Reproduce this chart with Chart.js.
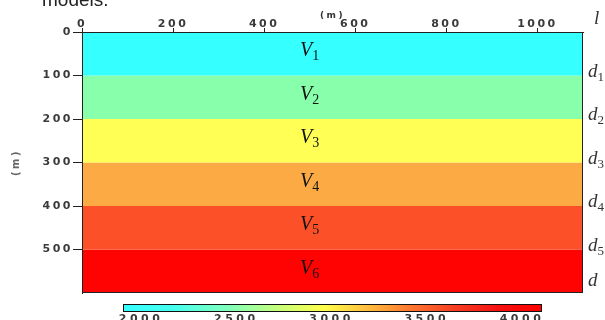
<!DOCTYPE html>
<html>
<head>
<meta charset="utf-8">
<style>
  html, body { margin: 0; padding: 0; background: #fff; }
  #wrap { width: 605px; height: 320px; position: relative; }
</style>
<script src="https://cdn.jsdelivr.net/npm/chart.js@4/dist/chart.umd.min.js"></script>
</head>
<body>
<div id="wrap"><canvas id="c" width="605" height="320"></canvas></div>
<script>
// Layered velocity model: six horizontal layers, depth in metres
const layerTops    = [0, 100, 200, 300, 400, 500];
const layerBottoms = [100, 200, 300, 400, 500, 600];
const layerLabels  = ['1', '2', '3', '4', '5', '6'];
const layerColors  = ['#36ffff', '#88ffaa', '#ffff55', '#fcaa44', '#fc5028', '#ff0303'];

// Interface depths and their labels on the right-hand side
const interfaceDepths = [100, 200, 300, 400, 500];
const interfaceLabels = ['1', '2', '3', '4', '5'];

// Axes
const xMin = 0, xMax = 1100;
const xTicks = [0, 200, 400, 600, 800, 1000];
const yMin = 0, yMax = 600;
const yTicks = [0, 100, 200, 300, 400, 500];
const labelX = 500;

// Velocity colour bar (m/s)
const cbarTicks = [2000, 2500, 3000, 3500, 4000];
const cbarMin = 1905, cbarMax = 4105;
const cbarStops = [
  [0.00, '#36ffff'], [0.12, '#45ffee'], [0.25, '#80ffbb'], [0.36, '#c0ff80'],
  [0.48, '#ffff48'], [0.58, '#ffc040'], [0.68, '#fc7a30'], [0.80, '#f53a22'],
  [0.90, '#f51010'], [1.00, '#ff0000']
];

const tickFont = { family: 'DejaVu Sans', size: 11, weight: 'bold' };
const tickColor = '#3a3a3a';
const mathFamily = '"Liberation Serif"';

const datasets = layerTops.map((top, i) => ({
  label: 'V' + layerLabels[i],
  data: [{ x: xMin, y: layerBottoms[i] }, { x: xMax, y: layerBottoms[i] }],
  fill: { value: top },
  backgroundColor: layerColors[i],
  borderWidth: 0,
  pointRadius: 0,
  tension: 0
}));

function mathWidth(ctx, base, sub, size) {
  ctx.save();
  ctx.font = 'italic ' + size + 'px ' + mathFamily;
  let w = ctx.measureText(base).width;
  if (sub) {
    ctx.font = Math.round(size * 0.7) + 'px ' + mathFamily;
    w += ctx.measureText(sub).width;
  }
  ctx.restore();
  return w;
}

function drawMath(ctx, base, sub, x, y, size, color) {
  ctx.save();
  ctx.fillStyle = color;
  ctx.textBaseline = 'middle';
  ctx.textAlign = 'left';
  ctx.font = 'italic ' + size + 'px ' + mathFamily;
  ctx.fillText(base, x, y);
  const w = ctx.measureText(base).width;
  if (sub) {
    ctx.font = Math.round(size * 0.7) + 'px ' + mathFamily;
    ctx.fillText(sub, x + w, y + size * 0.3);
  }
  ctx.restore();
}

// wide-set digits for the axis numbers
const spacing = {
  id: 'spacing',
  beforeLayout(chart) { chart.ctx.letterSpacing = '2.5px'; },
  beforeDraw(chart) { chart.ctx.letterSpacing = '2.5px'; }
};

const decorations = {
  id: 'decorations',
  afterDatasetsDraw(chart) {
    const { ctx, chartArea: a, scales } = chart;
    const xs = scales.x, ys = scales.y;

    ctx.save();
    ctx.letterSpacing = '0px';

    // plot frame
    ctx.strokeStyle = '#222';
    ctx.lineWidth = 1;
    ctx.strokeRect(a.left + 0.5, a.top + 0.5, a.right - a.left - 1, a.bottom - a.top - 1);

    // layer labels V_i
    layerTops.forEach((top, i) => {
      const mid = (top + layerBottoms[i]) / 2;
      const w = mathWidth(ctx, 'V', layerLabels[i], 20);
      drawMath(ctx, 'V', layerLabels[i], xs.getPixelForValue(labelX) - w / 2,
               ys.getPixelForValue(mid) - 3, 20, '#111');
    });

    // interface labels on the right
    const rx = a.right + 5;
    interfaceDepths.forEach((d, i) => {
      drawMath(ctx, 'd', interfaceLabels[i], rx, ys.getPixelForValue(d) - 4, 19, '#333');
    });
    drawMath(ctx, 'd', '', rx, ys.getPixelForValue(yMax) - 12, 19, '#333');
    drawMath(ctx, 'l', '', a.right + 11, a.top - 13, 19, '#333');

    // colour bar
    const cx0 = 123, cx1 = 542, cy0 = 304, cy1 = 312;
    const g = ctx.createLinearGradient(cx0, 0, cx1, 0);
    cbarStops.forEach(s => g.addColorStop(s[0], s[1]));
    ctx.fillStyle = g;
    ctx.fillRect(cx0, cy0, cx1 - cx0, cy1 - cy0);
    ctx.strokeStyle = '#111';
    ctx.strokeRect(cx0 + 0.5, cy0 + 0.5, cx1 - cx0 - 1, cy1 - cy0 - 1);
    ctx.letterSpacing = '3.5px';
    ctx.font = 'bold 11px "DejaVu Sans"';
    ctx.fillStyle = tickColor;
    ctx.textAlign = 'center';
    ctx.textBaseline = 'top';
    cbarTicks.forEach(v => {
      const px = cx0 + (v - cbarMin) / (cbarMax - cbarMin) * (cx1 - cx0);
      ctx.fillText(String(v), px, 314);
    });

    // caption text running above the figure
    ctx.letterSpacing = '0px';
    ctx.font = '19px "Liberation Sans"';
    ctx.fillStyle = '#222';
    ctx.textAlign = 'left';
    ctx.textBaseline = 'alphabetic';
    ctx.fillText('models.', 42, 6);
    ctx.restore();
  }
};

new Chart(document.getElementById('c'), {
  type: 'line',
  data: { datasets },
  plugins: [spacing, decorations],
  options: {
    responsive: false,
    animation: false,
    events: [],
    layout: { padding: { top: 0, left: 0, right: 22, bottom: 27 } },
    plugins: { legend: { display: false }, tooltip: { enabled: false } },
    scales: {
      x: {
        type: 'linear', position: 'top', min: xMin, max: xMax,
        afterBuildTicks: s => { s.ticks = xTicks.map(v => ({ value: v })); },
        afterFit: s => { s.height = 32; },
        ticks: { font: tickFont, color: tickColor, padding: -3, maxRotation: 0,
                 callback: v => String(v) },
        grid: { drawOnChartArea: false, drawTicks: true, tickLength: 4, color: '#222' },
        border: { color: '#222' },
        title: { display: true, text: '(m)', font: { family: 'DejaVu Sans', size: 9, weight: 'bold' },
                 color: '#333', padding: { top: 10, bottom: 0 } }
      },
      y: {
        type: 'linear', reverse: true, min: yMin, max: yMax,
        afterBuildTicks: s => { s.ticks = yTicks.map(v => ({ value: v })); },
        afterFit: s => { s.width = 82; },
        ticks: { font: tickFont, color: tickColor, padding: 0, callback: v => String(v) },
        grid: { drawOnChartArea: false, drawTicks: true, tickLength: 9, color: '#222' },
        border: { color: '#222' },
        title: { display: true, text: '(m)', font: { family: 'DejaVu Sans', size: 10, weight: 'bold' },
                 color: '#666', padding: { top: 10, bottom: 0 } }
      }
    }
  }
});
</script>
</body>
</html>
